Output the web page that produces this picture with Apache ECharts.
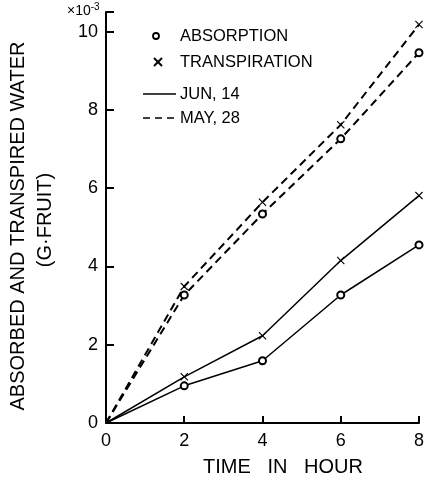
<!DOCTYPE html>
<html><head><meta charset="utf-8">
<script src="https://cdn.jsdelivr.net/npm/echarts@6/dist/echarts.min.js"></script>
<style>html,body{margin:0;padding:0;background:#fff}#c{width:427px;height:480px}</style>
</head><body><div id="c"></div>
<script>
var hours = [0, 2, 4, 6, 8];
var may28Absorption = [0, 3.27, 5.34, 7.26, 9.46];
var may28Transpiration = [0, 3.49, 5.64, 7.62, 10.18];
var jun14Absorption = [0, 0.95, 1.59, 3.27, 4.55];
var jun14Transpiration = [0, 1.18, 2.23, 4.15, 5.81];
var xTicks = [0, 2, 4, 6, 8];
var yTicks = [0, 2, 4, 6, 8, 10];

var FONT = '"Liberation Sans", Arial, sans-serif';
var CROSS = 'path://M0,1L1,0L5,4L9,0L10,1L6,5L10,9L9,10L5,6L1,10L0,9L4,5Z';

function pts(vals) {
  return hours.map(function (h, i) {
    var d = { value: [h, vals[i]] };
    if (h === 0) d.symbol = 'none';
    return d;
  });
}
function mk(name, vals, dashed, isCross) {
  return {
    name: name, type: 'line', data: pts(vals),
    symbol: isCross ? CROSS : 'emptyCircle',
    symbolSize: isCross ? 8 : 7,
    itemStyle: { color: '#000', borderColor: '#000', borderWidth: isCross ? 0 : 1.3 },
    lineStyle: { color: '#000', width: dashed ? 2 : 1.5, type: dashed ? [8, 5] : 'solid' },
    silent: true, z: 3
  };
}

var chart = echarts.init(document.getElementById('c'), null, { renderer: 'canvas' });
chart.setOption({
  animation: false,
  backgroundColor: '#fff',
  grid: { left: 106, right: 6, top: 12, bottom: 57 },
  xAxis: {
    type: 'value', min: 0, max: 8, interval: 2,
    axisLine: { lineStyle: { color: '#000', width: 2 } },
    axisTick: { inside: true, length: 7, lineStyle: { color: '#000', width: 2 } },
    axisLabel: { color: '#000', fontSize: 18, fontFamily: FONT, margin: 9,
      formatter: function (v) { return xTicks.indexOf(v) >= 0 ? String(v) : ''; } },
    splitLine: { show: false }
  },
  yAxis: {
    type: 'value', min: 0, max: 10.5, interval: 2,
    axisLine: { lineStyle: { color: '#000', width: 2 } },
    axisTick: { inside: true, length: 8, lineStyle: { color: '#000', width: 2 } },
    axisLabel: { color: '#000', fontSize: 18, fontFamily: FONT, margin: 8,
      formatter: function (v) { return yTicks.indexOf(v) >= 0 ? String(v) : ''; } },
    splitLine: { show: false }
  },
  graphic: [
    { type: 'text', x: 67, y: 2, style: { text: '×10{s|-3}', fill: '#000', font: '14px ' + FONT,
      rich: { s: { fontSize: 10, verticalAlign: 'top', padding: [0, 0, 8, 0] } } } },
    { type: 'text', x: 283, y: 467, style: { text: 'TIME   IN   HOUR', fill: '#000', font: '20px ' + FONT,
      textAlign: 'center', textVerticalAlign: 'middle' } },
    { type: 'text', x: 28, y: 226, rotation: Math.PI / 2, style: { text: 'ABSORBED AND TRANSPIRED WATER',
      fill: '#000', font: '20px ' + FONT, textAlign: 'center', textVerticalAlign: 'bottom' } },
    { type: 'text', x: 55, y: 220, rotation: Math.PI / 2, style: { text: '(G·FRUIT)',
      fill: '#000', font: '20px ' + FONT, textAlign: 'center', textVerticalAlign: 'bottom' } },
    { type: 'circle', shape: { cx: 156, cy: 36, r: 3 }, style: { fill: '#fff', stroke: '#000', lineWidth: 1.8 } },
    { type: 'text', x: 180, y: 36, style: { text: 'ABSORPTION', fill: '#000', font: '16.5px ' + FONT, textVerticalAlign: 'middle' } },
    { type: 'line', shape: { x1: 154, y1: 58, x2: 162, y2: 66 }, style: { stroke: '#000', lineWidth: 2 } },
    { type: 'line', shape: { x1: 162, y1: 58, x2: 154, y2: 66 }, style: { stroke: '#000', lineWidth: 2 } },
    { type: 'text', x: 180, y: 62, style: { text: 'TRANSPIRATION', fill: '#000', font: '16.5px ' + FONT, textVerticalAlign: 'middle' } },
    { type: 'line', shape: { x1: 143, y1: 94, x2: 176, y2: 94 }, style: { stroke: '#000', lineWidth: 1.5 } },
    { type: 'text', x: 180, y: 94, style: { text: 'JUN, 14', fill: '#000', font: '16.5px ' + FONT, textVerticalAlign: 'middle' } },
    { type: 'line', shape: { x1: 143, y1: 118, x2: 178, y2: 118 }, style: { stroke: '#000', lineWidth: 1.5, lineDash: [7, 5] } },
    { type: 'text', x: 180, y: 118, style: { text: 'MAY, 28', fill: '#000', font: '16.5px ' + FONT, textVerticalAlign: 'middle' } }
  ],
  series: [
    mk('May28 Absorption', may28Absorption, true, false),
    mk('May28 Transpiration', may28Transpiration, true, true),
    mk('Jun14 Absorption', jun14Absorption, false, false),
    mk('Jun14 Transpiration', jun14Transpiration, false, true)
  ]
});
</script></body></html>
